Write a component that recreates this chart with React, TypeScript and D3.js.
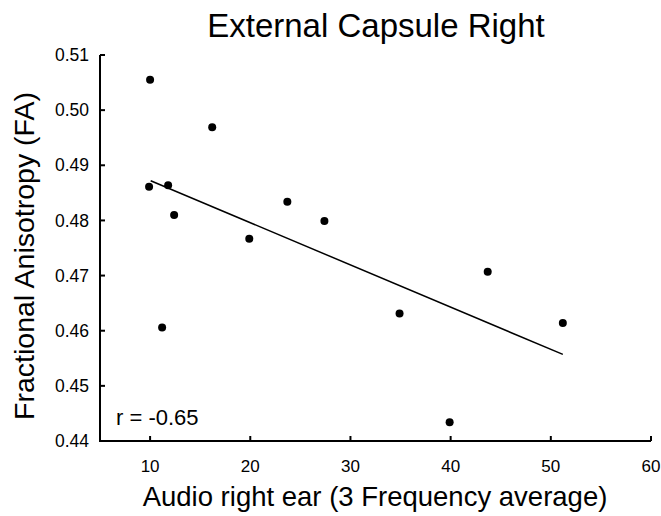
import React from "react";
import * as d3 from "d3";

const xValues = [10, 16.2, 9.9, 11.8, 12.4, 19.9, 23.7, 27.4, 34.9, 11.2, 43.7, 51.2, 39.9];
const yValues = [0.5055, 0.4969, 0.4861, 0.4864, 0.481, 0.4767, 0.4834, 0.4799, 0.4631, 0.4606, 0.4707, 0.4614, 0.4434];
const fitX = [10.06, 51.2];
const fitY = [0.4872, 0.4557];
const xTicks = [10, 20, 30, 40, 50, 60];
const yTicks = [0.44, 0.45, 0.46, 0.47, 0.48, 0.49, 0.5, 0.51];

const W = 661, H = 516;
const L = 100, R = 651, T = 55, B = 441;

export default function App() {
  const x = d3.scaleLinear().domain([5, 60]).range([L, R]);
  const y = d3.scaleLinear().domain([0.44, 0.51]).range([B, T]);
  const line = d3.line<number>().x((d) => x(fitX[d])).y((d) => y(fitY[d]));
  const font = "'Liberation Sans', Arial, sans-serif";
  return (
    <svg width={W} height={H} style={{ position: "absolute", left: 0, top: 0 }} fontFamily={font}>
      <rect width={W} height={H} fill="#fff" />
      <text x={376} y={37} textAnchor="middle" fontSize={33}>External Capsule Right</text>
      <path d={`M${L},${T}V${B}H${R}`} fill="none" stroke="#000" strokeWidth={2} />
      {yTicks.map((t) => (
        <g key={t}>
          <line x1={L} x2={L + 5} y1={y(t)} y2={y(t)} stroke="#000" strokeWidth={2} />
          <text x={L - 11} y={y(t)} dy="0.35em" textAnchor="end" fontSize={17.5}>{t.toFixed(2)}</text>
        </g>
      ))}
      {xTicks.map((t) => (
        <g key={t}>
          <line x1={x(t)} x2={x(t)} y1={B} y2={B - 5} stroke="#000" strokeWidth={2} />
          <text x={x(t)} y={B + 31} textAnchor="middle" fontSize={17}>{t}</text>
        </g>
      ))}
      <text x={375} y={506} textAnchor="middle" fontSize={27.5}>Audio right ear (3 Frequency average)</text>
      <text transform={`translate(34,256) rotate(-90)`} textAnchor="middle" fontSize={28.5}>Fractional Anisotropy (FA)</text>
      <path d={line([0, 1]) || ""} fill="none" stroke="#000" strokeWidth={1.5} />
      {xValues.map((v, i) => (
        <circle key={i} cx={x(v)} cy={y(yValues[i])} r={4} fill="#000" />
      ))}
      <text x={116} y={425} fontSize={22}>r = -0.65</text>
    </svg>
  );
}
